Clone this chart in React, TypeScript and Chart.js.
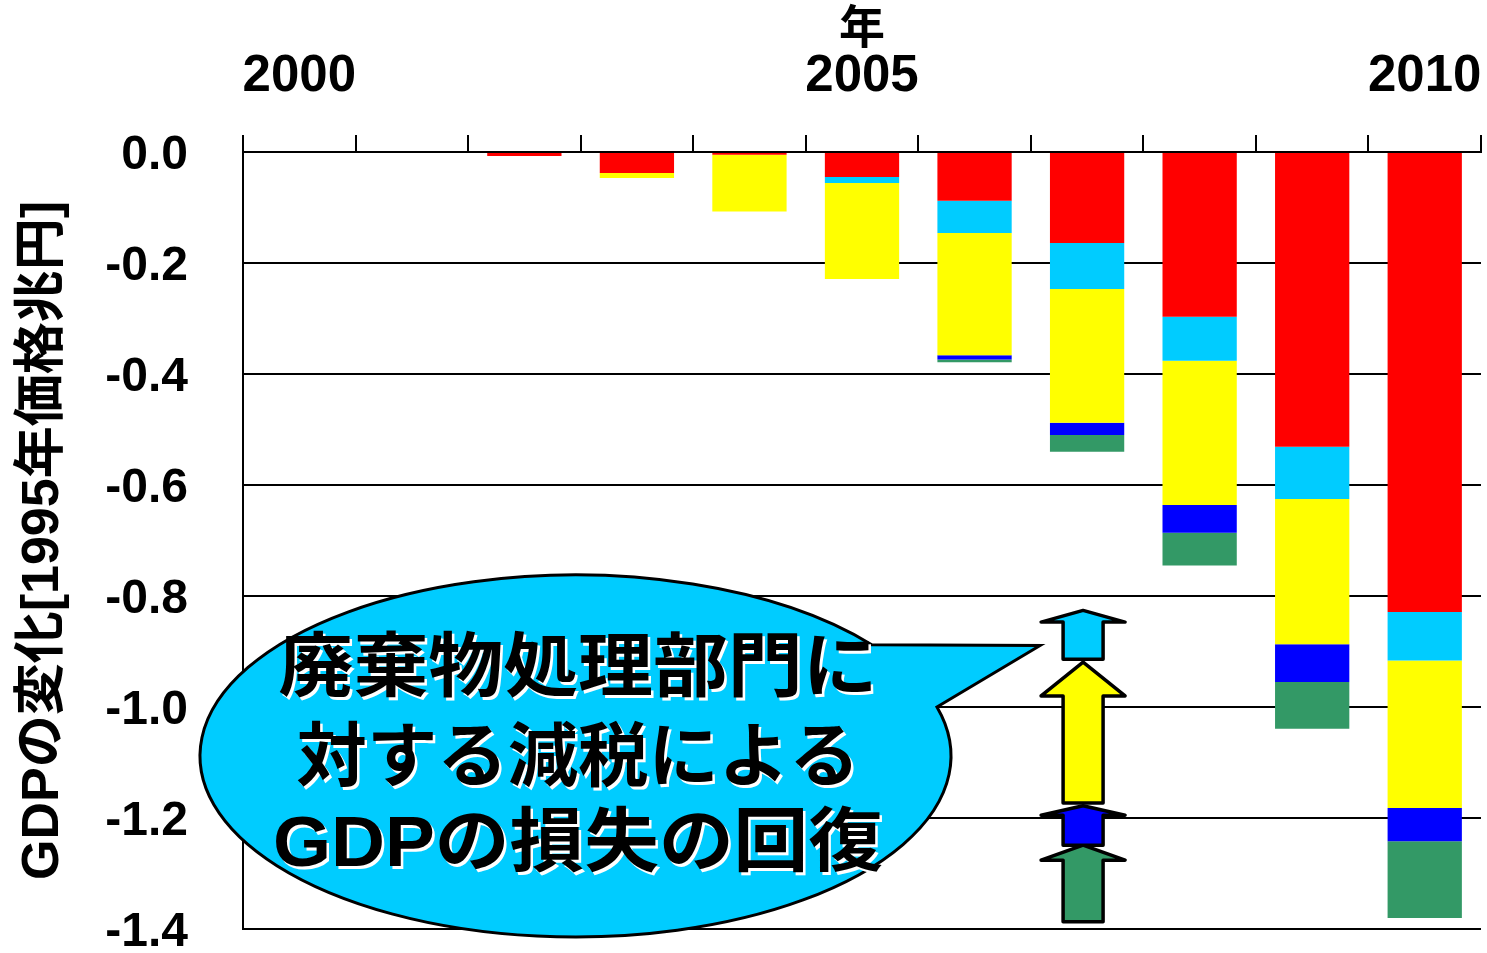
import React, { useEffect, useRef } from "react";
import { Chart, registerables } from "chart.js";

Chart.register(...registerables);

// ---- data ----
const years = ["2000", "2001", "2002", "2003", "2004", "2005", "2006", "2007", "2008", "2009", "2010"];
const labelledYears = ["2000", "2005", "2010"];
const yTickValues = [0, -0.2, -0.4, -0.6, -0.8, -1.0, -1.2, -1.4];

const redSeries = [0, 0, -0.007, -0.038, -0.005, -0.045, -0.088, -0.164, -0.297, -0.531, -0.829];
const cyanSeries = [0, 0, 0, 0, 0, -0.011, -0.058, -0.083, -0.079, -0.094, -0.087];
const yellowSeries = [0, 0, 0, -0.009, -0.102, -0.173, -0.22, -0.241, -0.26, -0.262, -0.266];
const blueSeries = [0, 0, 0, 0, 0, 0, -0.008, -0.022, -0.05, -0.068, -0.06];
const greenSeries = [0, 0, 0, 0, 0, 0, -0.005, -0.03, -0.059, -0.084, -0.138];

// legend arrows (drawn in the 2007 column): tip, head base, tail (data units)
const arrowColors = ["#00CCFF", "#FFFF00", "#0000FF", "#339966"];
const arrowTips = [-0.826, -0.919, -1.178, -1.249];
const arrowHeadBases = [-0.847, -0.98, -1.195, -1.276];
const arrowTails = [-0.914, -1.173, -1.249, -1.387];
const arrowCategory = 7;

const calloutLines = ["廃棄物処理部門に", "対する減税による", "GDPの損失の回復"];
const calloutLineWidths = [599, 563, 610];

const FONT = '"Liberation Sans", "Noto Sans CJK JP", sans-serif';
const CJK = '"Liberation Sans", "Noto Sans CJK JP", sans-serif';

const overlayPlugin = {
  id: "overlay",
  afterDraw(chart: any) {
    const ctx = chart.ctx as CanvasRenderingContext2D;
    const xs = chart.scales.x;
    const ys = chart.scales.y;

    // arrows
    const cx = xs.getPixelForValue(arrowCategory) - 4;
    const shaftHalf = 20;
    const headHalf = 42;
    ctx.save();
    ctx.lineWidth = 3.5;
    ctx.lineJoin = "round";
    ctx.strokeStyle = "#000";
    for (let i = arrowColors.length - 1; i >= 0; i--) {
      const tip = ys.getPixelForValue(arrowTips[i]);
      const base = ys.getPixelForValue(arrowHeadBases[i]);
      const tail = ys.getPixelForValue(arrowTails[i]);
      ctx.beginPath();
      ctx.moveTo(cx, tip);
      ctx.lineTo(cx + headHalf, base);
      ctx.lineTo(cx + shaftHalf, base);
      ctx.lineTo(cx + shaftHalf, tail);
      ctx.lineTo(cx - shaftHalf, tail);
      ctx.lineTo(cx - shaftHalf, base);
      ctx.lineTo(cx - headHalf, base);
      ctx.closePath();
      ctx.fillStyle = arrowColors[i];
      ctx.fill();
      ctx.stroke();
    }
    ctx.restore();

    // callout bubble
    const ecx = 575.5, ecy = 756, rx = 375.5, ry = 181;
    const tipX = cx - headHalf - 1;
    const tipY = 645.5;
    const t1 = Math.atan2(-0.613, 0.787);
    const t2 = Math.atan2(-0.271, 0.963);
    ctx.save();
    ctx.beginPath();
    ctx.moveTo(tipX, tipY);
    ctx.lineTo(ecx + rx * Math.cos(t2), ecy + ry * Math.sin(t2));
    ctx.ellipse(ecx, ecy, rx, ry, 0, t2, t1 + Math.PI * 2, false);
    ctx.closePath();
    ctx.fillStyle = "#00CCFF";
    ctx.fill();
    ctx.lineWidth = 3;
    ctx.lineJoin = "miter";
    ctx.strokeStyle = "#000";
    ctx.stroke();

    const centers = [672, 762, 847];
    ctx.font = `bold 70px ${CJK}`;
    ctx.textAlign = "center";
    ctx.textBaseline = "middle";
    calloutLines.forEach((line, i) => {
      const w = ctx.measureText(line).width;
      const sx = calloutLineWidths[i] / w;
      ctx.save();
      ctx.translate(578, centers[i]);
      ctx.scale(sx, 1);
      ctx.fillStyle = "#FFFFFF";
      ctx.fillText(line, 2.5 / sx, 2.5);
      ctx.fillStyle = "#000000";
      ctx.fillText(line, 0, 0);
      ctx.restore();
    });
    ctx.restore();
  },
};

export default function App() {
  const ref = useRef<HTMLCanvasElement | null>(null);

  useEffect(() => {
    if (!ref.current) return;
    const ds = (label: string, data: number[], color: string) => ({
      label,
      data,
      backgroundColor: color,
      borderWidth: 0,
      barPercentage: 0.66,
      categoryPercentage: 1,
    });
    const chart = new Chart(ref.current, {
      type: "bar",
      data: {
        labels: years,
        datasets: [
          ds("red", redSeries, "#FF0000"),
          ds("cyan", cyanSeries, "#00CCFF"),
          ds("yellow", yellowSeries, "#FFFF00"),
          ds("blue", blueSeries, "#0000FF"),
          ds("green", greenSeries, "#339966"),
        ],
      },
      options: {
        responsive: false,
        animation: false,
        layout: { padding: { top: 0, left: 0, right: 6, bottom: 24 } },
        plugins: { legend: { display: false }, tooltip: { enabled: false } },
        scales: {
          x: {
            type: "category",
            position: "top",
            stacked: true,
            offset: true,
            grid: {
              display: true,
              drawOnChartArea: false,
              drawTicks: true,
              tickLength: 17,
              color: "#000",
              lineWidth: 2,
              offset: true,
            },
            border: { display: true, color: "#000", width: 2 },
            ticks: {
              autoSkip: false,
              maxRotation: 0,
              minRotation: 0,
              padding: 33,
              color: "#000",
              font: { family: FONT, size: 51, weight: "bold", lineHeight: 1 },
              callback: (_v: any, i: number) => (labelledYears.includes(years[i]) ? years[i] : ""),
            },
            title: {
              display: true,
              text: "年",
              color: "#000",
              font: { family: CJK, size: 46, weight: "bold", lineHeight: 1 },
              padding: { top: 7, bottom: 0 },
            },
            afterFit: (s: any) => {
              s.height = 152;
              s.paddingLeft = 0;
              s.paddingRight = 0;
            },
          },
          y: {
            stacked: true,
            min: -1.4,
            max: 0,
            afterBuildTicks: (s: any) => {
              s.ticks = yTickValues.map((v) => ({ value: v }));
            },
            ticks: {
              padding: 55,
              labelOffset: 4,
              color: "#000",
              font: { family: FONT, size: 48, weight: "bold", lineHeight: 0.9 },
              callback: (v: any) => Number(v).toFixed(1),
            },
            grid: { color: "#000", lineWidth: 2, drawTicks: false },
            border: { display: true, color: "#000", width: 2 },
            title: {
              display: true,
              text: "GDPの変化[1995年価格兆円]",
              color: "#000",
              font: { family: CJK, size: 52, weight: "bold", lineHeight: 1 },
              padding: { top: 18, bottom: 0 },
            },
            afterFit: (s: any) => {
              s.width = 243;
              s.paddingTop = 0;
              s.paddingBottom = 0;
            },
          },
        },
      } as any,
      plugins: [overlayPlugin],
    });
    return () => chart.destroy();
  }, []);

  return (
    <div style={{ position: "absolute", left: 0, top: 0, width: 1487, height: 953, background: "#fff" }}>
      <canvas ref={ref} width={1487} height={953} style={{ display: "block" }} />
    </div>
  );
}
